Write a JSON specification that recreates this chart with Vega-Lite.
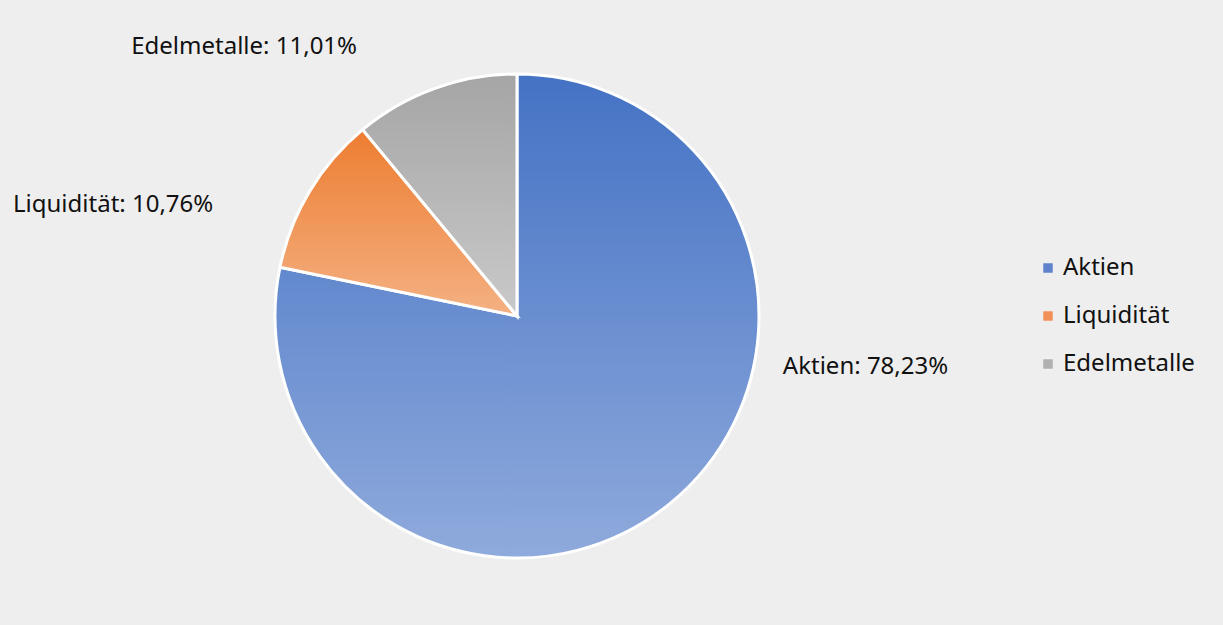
{
  "$schema": "https://vega.github.io/schema/vega-lite/v6.json",
  "width": 1024,
  "height": 618,
  "autosize": {"type": "none"},
  "padding": {"left": 5, "top": 7, "right": 194, "bottom": 0},
  "background": "#eeeeee",
  "config": {"view": {"stroke": null}, "font": "Noto Sans"},
  "data": {
    "values": [
      {"Kategorie": "Aktien", "Anteil": 78.23, "Reihenfolge": 1},
      {"Kategorie": "Liquidität", "Anteil": 10.76, "Reihenfolge": 2},
      {"Kategorie": "Edelmetalle", "Anteil": 11.01, "Reihenfolge": 3}
    ]
  },
  "transform": [
    {"calculate": "datum.Kategorie + ': ' + replace(format(datum.Anteil, '.2f'), '.', ',') + '%'", "as": "Beschriftung"}
  ],
  "encoding": {
    "theta": {"field": "Anteil", "type": "quantitative", "stack": true},
    "order": {"field": "Reihenfolge", "type": "quantitative"}
  },
  "layer": [
    {
      "mark": {"type": "arc", "outerRadius": 225, "stroke": "white", "strokeWidth": 3},
      "encoding": {
        "color": {
          "field": "Kategorie",
          "type": "nominal",
          "scale": {"domain": ["Aktien", "Liquidität", "Edelmetalle"], "range": ["#5f82cc", "#f0915a", "#b0b0b0"]},
          "legend": {
            "title": null,
            "orient": "none",
            "legendX": 1031,
            "legendY": 249,
            "symbolType": "square",
            "symbolSize": 90,
            "symbolStrokeWidth": 0,
            "labelFontSize": 24,
            "labelFont": "Noto Sans",
            "labelColor": "#111111",
            "labelOffset": 3,
            "rowPadding": 24,
            "padding": 0
          }
        }
      }
    },
    {
      "mark": {"type": "arc", "outerRadius": 242, "stroke": "white", "strokeWidth": 3},
      "encoding": {
        "fill": {
          "condition": [
            {"test": "datum.Kategorie === 'Aktien'", "value": {"gradient": "linear", "x1": 0, "y1": 0, "x2": 0, "y2": 1, "stops": [{"offset": 0, "color": "#4472c4"}, {"offset": 1, "color": "#8faadc"}]}},
            {"test": "datum.Kategorie === 'Liquidität'", "value": {"gradient": "linear", "x1": 0, "y1": 0, "x2": 0, "y2": 1, "stops": [{"offset": 0, "color": "#ed7d31"}, {"offset": 1, "color": "#f4b183"}]}}
          ],
          "value": {"gradient": "linear", "x1": 0, "y1": 0, "x2": 0, "y2": 1, "stops": [{"offset": 0, "color": "#a5a5a5"}, {"offset": 1, "color": "#c9c9c9"}]}
        }
      }
    },
    {
      "mark": {"type": "text", "radius": 330, "dx": 140, "dy": -205, "fontSize": 24, "color": "#111111", "align": "center", "baseline": "middle"},
      "encoding": {"text": {"condition": {"test": "datum.Kategorie === 'Aktien'", "field": "Beschriftung"}, "value": ""}}
    },
    {
      "mark": {"type": "text", "radius": 330, "dx": -121, "dy": 59, "fontSize": 24, "color": "#111111", "align": "center", "baseline": "middle"},
      "encoding": {"text": {"condition": {"test": "datum.Kategorie === 'Liquidität'", "field": "Beschriftung"}, "value": ""}}
    },
    {
      "mark": {"type": "text", "radius": 330, "dx": -161, "dy": 41, "fontSize": 24, "color": "#111111", "align": "center", "baseline": "middle"},
      "encoding": {"text": {"condition": {"test": "datum.Kategorie === 'Edelmetalle'", "field": "Beschriftung"}, "value": ""}}
    }
  ]
}
